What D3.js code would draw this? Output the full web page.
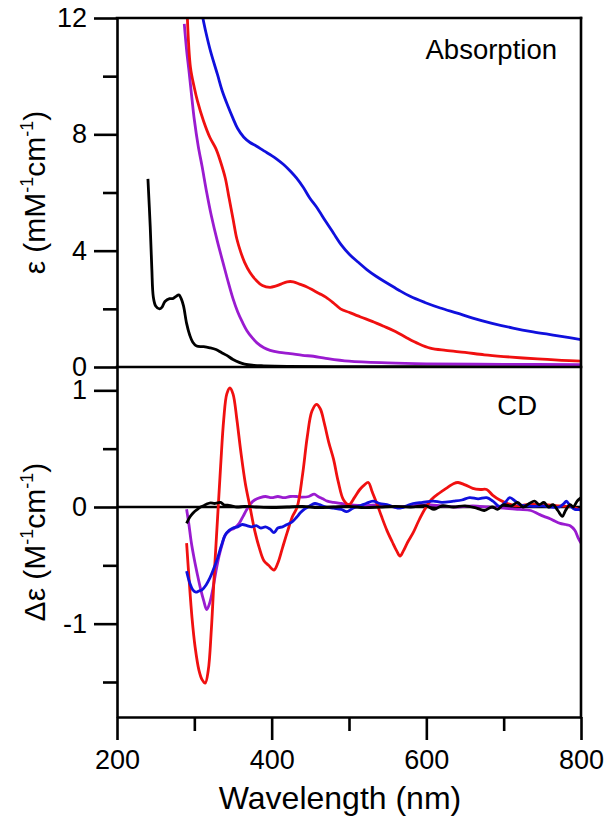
<!DOCTYPE html>
<html><head><meta charset="utf-8">
<script src="https://cdn.jsdelivr.net/npm/d3@7"></script>
<style>
body{margin:0;background:#fff}
text{font-family:"Liberation Sans",Arial,Helvetica,sans-serif;fill:#000}
</style>
</head><body>
<svg id="c" width="608" height="824"></svg>
<script>
// ---------- Absorption data (ε, mM-1 cm-1) ----------
const absBlackWl  = [240,243,245,247,250,255,258,262,268,272,276,280,283,286,290,294,298,303,312,320,328,335,342,350,358,365,375,390,420,500,600,700,800];
const absBlackVal = [6.47,4.8,3.4,2.4,2.1,2.0,2.05,2.25,2.35,2.35,2.42,2.48,2.35,2.1,1.5,1.1,0.85,0.72,0.70,0.66,0.6,0.5,0.4,0.26,0.16,0.1,0.06,0.04,0.02,0.01,0.01,0.01,0.01];

const absPurpleWl  = [287,290,293,297,300,305,310,316,322,330,337,343,350,356,362,368,375,381,390,398,410,424,440,454,470,500,550,600,700,800];
const absPurpleVal = [11.8,10.9,10.2,9.2,8.5,7.6,6.9,6.0,5.2,4.3,3.6,3.0,2.35,1.9,1.55,1.25,1.0,0.83,0.66,0.57,0.5,0.46,0.4,0.37,0.3,0.2,0.14,0.11,0.09,0.08];

const absRedWl  = [291,295,300,304,312,320,328,334,340,345,350,355,360,365,372,380,388,398,405,412,420,428,436,445,455,462,470,480,489,500,515,530,545,560,575,590,605,625,650,675,700,725,750,775,800];
const absRedVal = [12.0,10.3,9.6,9.15,8.45,7.9,7.5,7.05,6.5,5.8,5.1,4.4,3.95,3.6,3.25,2.98,2.8,2.74,2.78,2.85,2.93,2.93,2.85,2.76,2.62,2.52,2.4,2.2,2.0,1.88,1.72,1.57,1.4,1.22,1.0,0.8,0.65,0.57,0.5,0.42,0.36,0.31,0.27,0.23,0.2];

const absBlueWl  = [311,315,321,330,336,343,350,356,364,372,380,390,400,407,415,424,432,441,449,458,470,480,490,501,512,523,535,549,564,579,598,618,640,660,685,712,738,764,785,800];
const absBlueVal = [12.0,11.5,10.85,10.05,9.5,9.0,8.55,8.2,7.9,7.72,7.6,7.43,7.27,7.14,6.97,6.74,6.5,6.17,5.82,5.5,5.0,4.6,4.2,3.86,3.6,3.35,3.12,2.89,2.65,2.43,2.22,2.03,1.85,1.68,1.5,1.34,1.21,1.1,1.01,0.94];

// ---------- CD data (Δε, M-1 cm-1) ----------
const cdRedWl  = [290,293,297,301,306,310,314,318,322,326,330,334,338,342,346,350,355,360,366,372,378,384,390,396,403,408,414,420,427,433,440,446,452,458,463,468,474,480,486,493,500,507,514,520,525,530,536,542,549,556,562,566,570,576,583,590,598,606,617,628,635,641,650,660,670,678,686,695,705,716,730,750,772,790,800];
const cdRedVal = [-0.31,-0.6,-0.95,-1.2,-1.4,-1.48,-1.51,-1.4,-1.05,-0.55,-0.1,0.35,0.75,0.97,1.02,0.97,0.75,0.48,0.2,0.0,-0.2,-0.35,-0.46,-0.5,-0.54,-0.48,-0.35,-0.22,-0.08,0.0,0.28,0.6,0.82,0.88,0.84,0.72,0.55,0.41,0.22,0.06,0.02,0.08,0.15,0.19,0.21,0.13,0.03,-0.08,-0.2,-0.3,-0.38,-0.42,-0.38,-0.3,-0.22,-0.12,-0.02,0.06,0.12,0.17,0.2,0.21,0.19,0.16,0.15,0.15,0.1,0.06,0.03,0.01,0.02,0.02,0.01,0.0,-0.03];

const cdPurpleWl  = [290,293,296,300,304,308,312,316,320,324,328,332,336,340,346,352,358,363,368,373,378,385,392,400,408,416,424,432,440,448,455,460,466,472,480,490,500,520,540,560,580,600,620,640,660,680,700,720,735,745,752,760,766,773,780,786,792,796,800];
const cdPurpleVal = [-0.02,-0.15,-0.3,-0.45,-0.58,-0.7,-0.8,-0.88,-0.82,-0.7,-0.55,-0.42,-0.32,-0.24,-0.2,-0.18,-0.14,-0.08,-0.02,0.03,0.06,0.08,0.09,0.08,0.09,0.08,0.09,0.09,0.085,0.09,0.11,0.09,0.07,0.05,0.04,0.03,0.02,0.01,0.02,0.0,0.01,0.02,0.01,0.0,0.01,0.0,-0.01,-0.02,-0.03,-0.06,-0.08,-0.1,-0.12,-0.14,-0.15,-0.16,-0.2,-0.26,-0.31];

const cdBlueWl  = [290,294,298,302,306,310,315,320,325,330,335,340,345,350,356,362,368,374,380,386,392,398,403,408,414,420,426,432,437,442,447,452,456,462,470,480,490,497,505,514,522,531,540,549,558,566,575,583,595,609,620,635,646,656,667,678,686,695,702,708,715,721,730,738,750,760,772,778,781,786,792,800];
const cdBlueVal = [-0.55,-0.65,-0.71,-0.73,-0.72,-0.71,-0.67,-0.61,-0.53,-0.44,-0.33,-0.24,-0.2,-0.18,-0.17,-0.15,-0.16,-0.17,-0.16,-0.18,-0.17,-0.19,-0.22,-0.18,-0.17,-0.15,-0.13,-0.09,-0.05,-0.02,0.0,0.02,0.03,0.02,0.0,-0.01,-0.02,-0.04,-0.01,0.01,0.03,0.05,0.03,0.02,0.0,-0.01,0.01,0.03,0.04,0.05,0.04,0.05,0.06,0.08,0.07,0.08,0.05,0.005,0.04,0.08,0.05,0.02,0.01,0.005,0.01,0.0,0.0,0.03,0.05,0.01,-0.02,-0.02];

const cdBlackWl  = [290,293,296,300,304,308,312,316,321,326,330,334,338,343,348,355,365,380,400,420,440,460,480,500,520,540,560,580,600,610,620,635,650,665,675,685,692,700,710,718,725,733,740,746,752,758,764,770,776,780,786,790,795,800];
const cdBlackVal = [-0.14,-0.1,-0.07,-0.04,-0.02,0.0,0.01,0.025,0.035,0.03,0.035,0.04,0.02,0.015,0.01,0.0,0.005,0.0,-0.005,0.0,0.005,-0.005,0.0,0.005,-0.005,0.0,0.005,0.0,0.01,-0.02,0.01,0.0,0.01,-0.01,-0.03,0.0,-0.02,0.02,0.01,0.04,0.0,0.03,0.05,0.02,0.04,0.0,0.02,-0.03,-0.08,-0.03,0.02,0.0,0.05,0.08];

// ---------- Axis ticks ----------
const xMajorTicks = [200,400,600,800];
const xMinorTicks = [300,500,700];
const absMajorTicks = [0,4,8,12];
const absMinorTicks = [2,6,10];
const cdMajorTicks = [-1,0,1];
const cdMinorTicks = [-1.5,-0.5,0.5];

const colors = {black:"#000000", purple:"#9a1bd0", red:"#f01010", blue:"#1010dd"};

// ---------- Layout ----------
const svg = d3.select("#c");
const L = 117, R = 581;
const topT = 18, mid = 367, botB = 717;
const axisW = 2.6, lineW = 2.8, majorLen = 23, minorLen = 14;

const x = d3.scaleLinear().domain([200,800]).range([L,R]);
const yA = d3.scaleLinear().domain([0,12]).range([mid,topT]);
const yC = d3.scaleLinear().domain([-1.8,1.2]).range([botB,mid]);

// clip paths
const defs = svg.append("defs");
defs.append("clipPath").attr("id","clipA").append("rect").attr("x",L).attr("y",topT).attr("width",R-L).attr("height",mid-topT);
defs.append("clipPath").attr("id","clipC").append("rect").attr("x",L).attr("y",mid).attr("width",R-L).attr("height",botB-mid);

function zipData(w,v){return w.map((d,i)=>({x:d,y:v[i]}));}

const lineA = d3.line().x(d=>x(d.x)).y(d=>yA(d.y)).curve(d3.curveCatmullRom.alpha(0.5));
const lineC = d3.line().x(d=>x(d.x)).y(d=>yC(d.y)).curve(d3.curveCatmullRom.alpha(0.5));

// zero line in CD panel
svg.append("line").attr("x1",L).attr("x2",R).attr("y1",yC(0)).attr("y2",yC(0))
  .attr("stroke","#000").attr("stroke-width",axisW);

// Absorption curves
const gA = svg.append("g").attr("clip-path","url(#clipA)");
[[absBlackWl,absBlackVal,colors.black],[absPurpleWl,absPurpleVal,colors.purple],
 [absRedWl,absRedVal,colors.red],[absBlueWl,absBlueVal,colors.blue]].forEach(([w,v,c])=>{
  gA.append("path").datum(zipData(w,v)).attr("d",lineA).attr("fill","none")
    .attr("stroke",c).attr("stroke-width",lineW).attr("stroke-linejoin","round");
});

// CD curves
const gC = svg.append("g").attr("clip-path","url(#clipC)");
[[cdPurpleWl,cdPurpleVal,colors.purple],[cdRedWl,cdRedVal,colors.red],
 [cdBlueWl,cdBlueVal,colors.blue],[cdBlackWl,cdBlackVal,colors.black]].forEach(([w,v,c])=>{
  gC.append("path").datum(zipData(w,v)).attr("d",lineC).attr("fill","none")
    .attr("stroke",c).attr("stroke-width",lineW).attr("stroke-linejoin","round");
});

// Frames
function frameLine(x1,y1,x2,y2){
  svg.append("line").attr("x1",x1).attr("y1",y1).attr("x2",x2).attr("y2",y2)
    .attr("stroke","#000").attr("stroke-width",axisW).attr("stroke-linecap","square");
}
frameLine(L,topT,R,topT);
frameLine(R,topT,R,botB);
frameLine(L,mid,R,mid);

function styleAxis(g, fs){
  g.selectAll("path.domain").attr("stroke","#000").attr("stroke-width",axisW);
  g.selectAll(".tick line").attr("stroke","#000").attr("stroke-width",axisW);
  g.selectAll(".tick text").attr("font-size",fs).attr("font-family","'Liberation Sans',Arial,sans-serif").attr("fill","#000");
}

// Absorption y axis
const aMaj = svg.append("g").attr("transform",`translate(${L},0)`)
  .call(d3.axisLeft(yA).tickValues(absMajorTicks).tickSize(majorLen).tickSizeOuter(0).tickPadding(7).tickFormat(d3.format("d")));
styleAxis(aMaj,27);
const aMin = svg.append("g").attr("transform",`translate(${L},0)`)
  .call(d3.axisLeft(yA).tickValues(absMinorTicks).tickSize(minorLen).tickSizeOuter(0).tickFormat(""));
styleAxis(aMin,27);
aMin.select("path.domain").remove();

// CD y axis
const cMaj = svg.append("g").attr("transform",`translate(${L},0)`)
  .call(d3.axisLeft(yC).tickValues(cdMajorTicks).tickSize(majorLen).tickSizeOuter(0).tickPadding(7).tickFormat(d=> d<0 ? "-"+Math.abs(d) : String(d)));
styleAxis(cMaj,27);
const cMin = svg.append("g").attr("transform",`translate(${L},0)`)
  .call(d3.axisLeft(yC).tickValues(cdMinorTicks).tickSize(minorLen).tickSizeOuter(0).tickFormat(""));
styleAxis(cMin,27);
cMin.select("path.domain").remove();

// x axis
const xMaj = svg.append("g").attr("transform",`translate(0,${botB})`)
  .call(d3.axisBottom(x).tickValues(xMajorTicks).tickSize(majorLen).tickSizeOuter(0).tickPadding(10).tickFormat(d3.format("d")));
styleAxis(xMaj,27);
const xMin = svg.append("g").attr("transform",`translate(0,${botB})`)
  .call(d3.axisBottom(x).tickValues(xMinorTicks).tickSize(minorLen).tickSizeOuter(0).tickFormat(""));
styleAxis(xMin,27);
xMin.select("path.domain").remove();

// Axis titles
svg.append("text").attr("x",340).attr("y",809).attr("text-anchor","middle")
  .attr("font-size",32).text("Wavelength (nm)");

function yTitle(cy, parts){
  const t = svg.append("text").attr("transform",`translate(45,${cy}) rotate(-90)`)
    .attr("text-anchor","middle").attr("font-size",30);
  parts.forEach(p=>{
    if(p.sup){
      t.append("tspan").attr("font-size",18).attr("dy",-12).text(p.t);
    } else {
      t.append("tspan").attr("dy",p.after?12:0).text(p.t);
    }
  });
}
yTitle((topT+mid)/2, [{t:"ε (mM"},{t:"-1",sup:true},{t:"cm",after:true},{t:"-1",sup:true},{t:")",after:true}]);
yTitle((mid+botB)/2, [{t:"Δε (M"},{t:"-1",sup:true},{t:"cm",after:true},{t:"-1",sup:true},{t:")",after:true}]);

// Panel labels
svg.append("text").attr("x",557).attr("y",59).attr("text-anchor","end").attr("font-size",27.5).text("Absorption");
svg.append("text").attr("x",537).attr("y",415).attr("text-anchor","end").attr("font-size",27.5).text("CD");
</script>
</body></html>
